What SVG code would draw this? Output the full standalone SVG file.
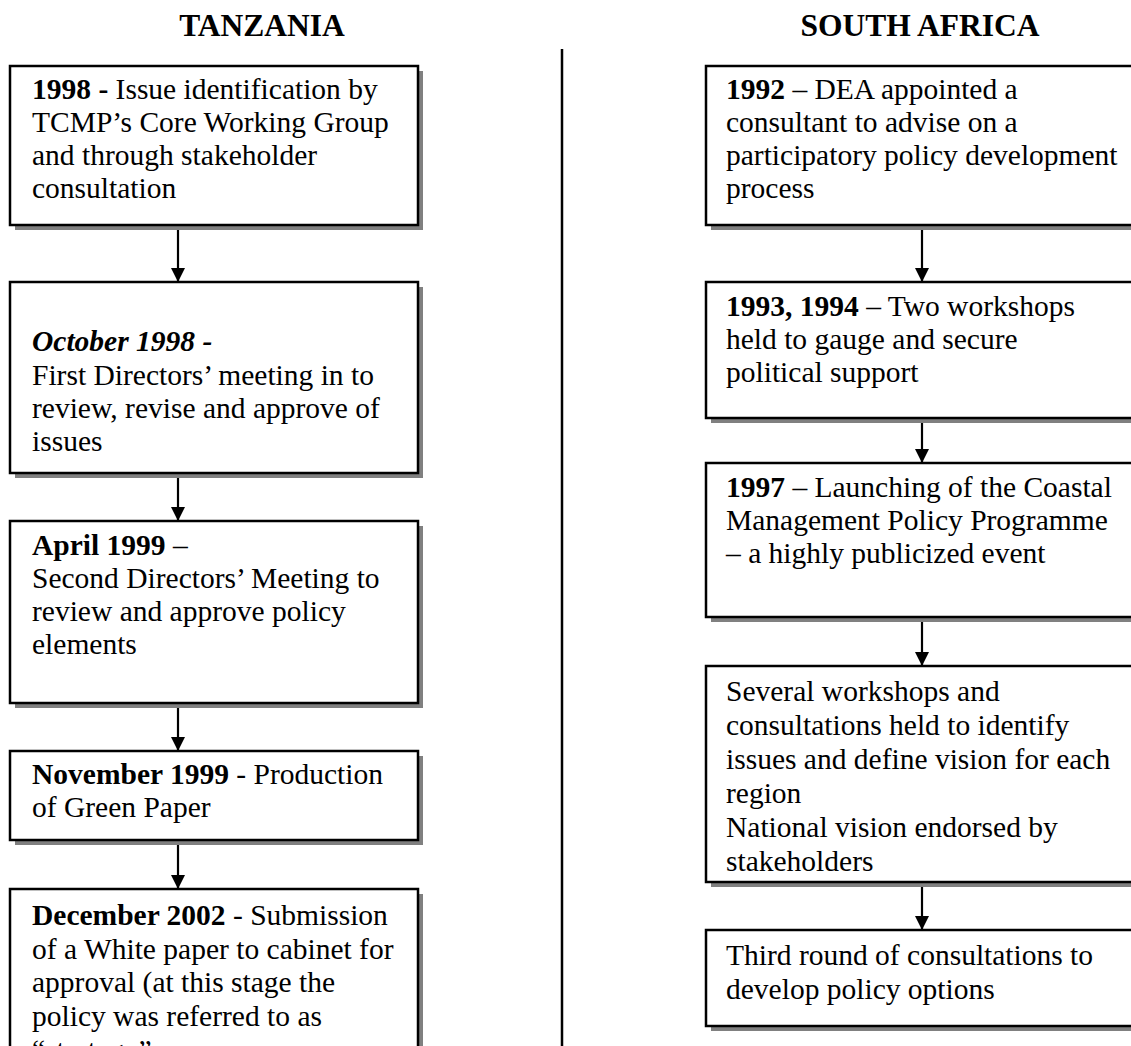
<svg xmlns="http://www.w3.org/2000/svg" width="1131" height="1046" viewBox="0 0 1131 1046">
<style>
.box{fill:#fff;stroke:#000;stroke-width:2.5}
.shadow{fill:#808080}
.t{font-family:"Liberation Serif","Times New Roman",serif;font-size:29.5px;fill:#000}
.b{font-weight:bold}
.bi{font-weight:bold;font-style:italic}
.title{font-weight:bold;text-anchor:middle;font-size:31.5px}
.conn{stroke:#000;stroke-width:2.2;fill:none;marker-end:url(#arr)}
</style>
<defs>
<marker id="arr" viewBox="0 0 14 14" refX="14" refY="7" markerWidth="14" markerHeight="14" markerUnits="userSpaceOnUse" orient="auto">
<path d="M0,0 L14,7 L0,14 z" fill="#000"/>
</marker>
</defs>
<rect width="1131" height="1046" fill="#fff"/>

<g id="titles">
<text class="t title" x="262" y="36">TANZANIA</text>
<text class="t title" x="920" y="36">SOUTH AFRICA</text>
</g>
<line id="divider" x1="562" y1="49" x2="562" y2="1046" stroke="#000" stroke-width="2.5"/>

<g id="connectors">
<line class="conn" x1="178" y1="225" x2="178" y2="282"/>
<line class="conn" x1="178" y1="473" x2="178" y2="521"/>
<line class="conn" x1="178" y1="703" x2="178" y2="751"/>
<line class="conn" x1="178" y1="840" x2="178" y2="889"/>
<line class="conn" x1="922" y1="225" x2="922" y2="282"/>
<line class="conn" x1="922" y1="418" x2="922" y2="463"/>
<line class="conn" x1="922" y1="617" x2="922" y2="666"/>
<line class="conn" x1="922" y1="882" x2="922" y2="930"/>
</g>

<g id="tz1">
<rect class="shadow" x="15" y="71" width="408" height="159"/>
<rect class="box" x="10" y="66" width="408" height="159"/>
<text class="t" x="32" y="99"><tspan class="b">1998 -</tspan> Issue identification by</text>
<text class="t" x="32" y="132">TCMP’s Core Working Group</text>
<text class="t" x="32" y="165">and through stakeholder</text>
<text class="t" x="32" y="198">consultation</text>
</g>

<g id="tz2">
<rect class="shadow" x="15" y="287" width="408" height="191"/>
<rect class="box" x="10" y="282" width="408" height="191"/>
<text class="t" x="32" y="351"><tspan class="bi">October 1998 -</tspan></text>
<text class="t" x="32" y="385">First Directors’ meeting in to</text>
<text class="t" x="32" y="418">review, revise and approve of</text>
<text class="t" x="32" y="451">issues</text>
</g>

<g id="tz3">
<rect class="shadow" x="15" y="526" width="408" height="182"/>
<rect class="box" x="10" y="521" width="408" height="182"/>
<text class="t" x="32" y="555"><tspan class="b">April 1999</tspan> –</text>
<text class="t" x="32" y="588">Second Directors’ Meeting to</text>
<text class="t" x="32" y="621">review and approve policy</text>
<text class="t" x="32" y="654">elements</text>
</g>

<g id="tz4">
<rect class="shadow" x="15" y="756" width="408" height="89"/>
<rect class="box" x="10" y="751" width="408" height="89"/>
<text class="t" x="32" y="784"><tspan class="b">November 1999</tspan> - Production</text>
<text class="t" x="32" y="817">of Green Paper</text>
</g>

<g id="tz5">
<rect class="shadow" x="15" y="894" width="408" height="200"/>
<rect class="box" x="10" y="889" width="408" height="200"/>
<text class="t" x="32" y="925"><tspan class="b">December 2002</tspan> - Submission</text>
<text class="t" x="32" y="959">of a White paper to cabinet for</text>
<text class="t" x="32" y="992">approval (at this stage the</text>
<text class="t" x="32" y="1026">policy was referred to as</text>
<text class="t" x="32" y="1060">“strategy”</text>
</g>

<g id="sa1">
<rect class="shadow" x="711" y="71" width="440" height="159"/>
<rect class="box" x="706" y="66" width="440" height="159"/>
<text class="t" x="726" y="99"><tspan class="b">1992</tspan> – DEA appointed a</text>
<text class="t" x="726" y="132">consultant to advise on a</text>
<text class="t" x="726" y="165">participatory policy development</text>
<text class="t" x="726" y="198">process</text>
</g>

<g id="sa2">
<rect class="shadow" x="711" y="287" width="440" height="136"/>
<rect class="box" x="706" y="282" width="440" height="136"/>
<text class="t" x="726" y="316"><tspan class="b">1993, 1994</tspan> – Two workshops</text>
<text class="t" x="726" y="349">held to gauge and secure</text>
<text class="t" x="726" y="382">political support</text>
</g>

<g id="sa3">
<rect class="shadow" x="711" y="468" width="440" height="154"/>
<rect class="box" x="706" y="463" width="440" height="154"/>
<text class="t" x="726" y="497"><tspan class="b">1997</tspan> – Launching of the Coastal</text>
<text class="t" x="726" y="530">Management Policy Programme</text>
<text class="t" x="726" y="563">– a highly publicized event</text>
</g>

<g id="sa4">
<rect class="shadow" x="711" y="671" width="440" height="216"/>
<rect class="box" x="706" y="666" width="440" height="216"/>
<text class="t" x="726" y="701">Several workshops and</text>
<text class="t" x="726" y="735">consultations held to identify</text>
<text class="t" x="726" y="769">issues and define vision for each</text>
<text class="t" x="726" y="803">region</text>
<text class="t" x="726" y="837">National vision endorsed by</text>
<text class="t" x="726" y="871">stakeholders</text>
</g>

<g id="sa5">
<rect class="shadow" x="711" y="935" width="440" height="96"/>
<rect class="box" x="706" y="930" width="440" height="96"/>
<text class="t" x="726" y="965">Third round of consultations to</text>
<text class="t" x="726" y="999">develop policy options</text>
</g>
</svg>
